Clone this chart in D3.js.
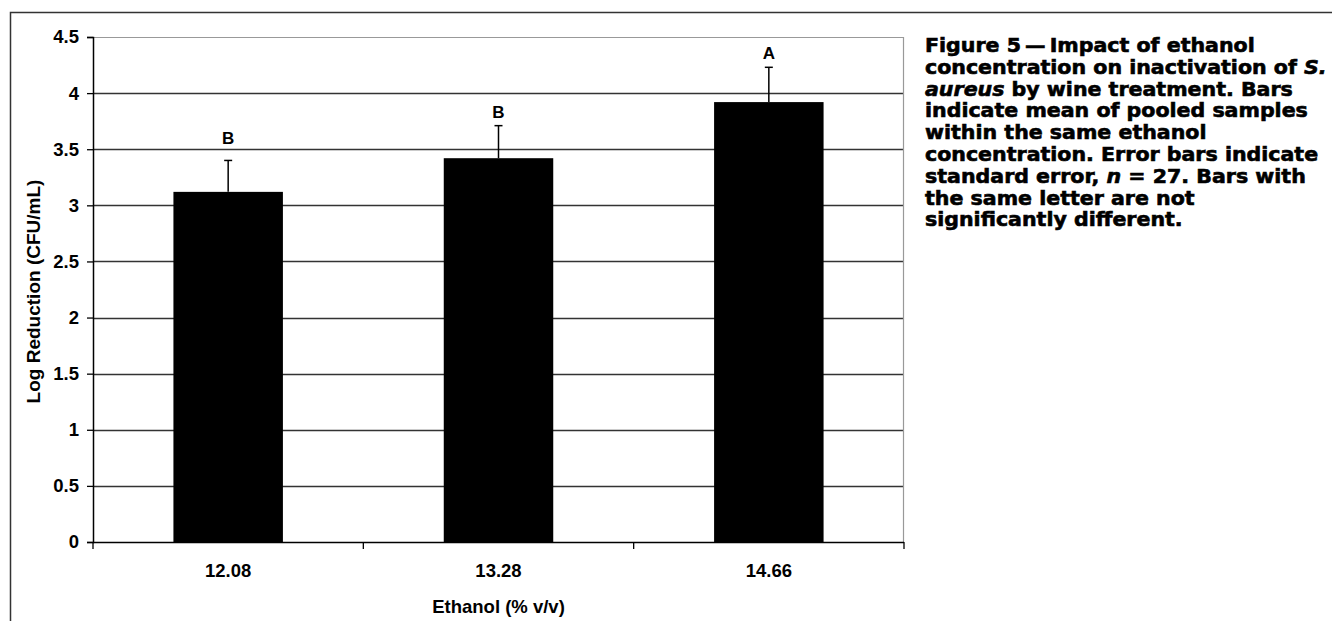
<!DOCTYPE html>
<html>
<head>
<meta charset="utf-8">
<script src="https://cdn.jsdelivr.net/npm/d3@7"></script>
<style>
  body { margin: 0; background: #fff; }
  svg { display: block; }
  text { font-family: "Liberation Sans", Arial, sans-serif; font-weight: bold; fill: #000; }
</style>
</head>
<body>
<div id="chart"></div>
<script>
// data
const categories = ['12.08', '13.28', '14.66']
const means = [3.12, 3.42, 3.92]
const errTops = [3.40, 3.71, 4.23]
const letters = ['B', 'B', 'A']
const letterPos = [3.60, 3.83, 4.36]
const yTicks = [0, 0.5, 1, 1.5, 2, 2.5, 3, 3.5, 4, 4.5]

const captionLines = [
  [['Figure 5\u2009\u2014\u2009Impact of ethanol', false]],
  [['concentration on inactivation of ', false], ['S.', true]],
  [['aureus', true], [' by wine treatment. Bars', false]],
  [['indicate mean of pooled samples', false]],
  [['within the same ethanol', false]],
  [['concentration. Error bars indicate', false]],
  [['standard error, ', false], ['n', true], [' = 27. Bars with', false]],
  [['the same letter are not', false]],
  [['significantly different.', false]]
]

const W = 1332, H = 621
const margin = { top: 37, left: 93 }
const plotW = 811, plotH = 505

const svg = d3.select('#chart').append('svg')
  .attr('width', W)
  .attr('height', H)

// outer frame (top + left only visible)
svg.append('path')
  .attr('d', `M10.5,${H} L10.5,12.5 L${W},12.5`)
  .attr('fill', 'none')
  .attr('stroke', '#333')
  .attr('stroke-width', 1.5)

const g = svg.append('g')
  .attr('transform', `translate(${margin.left},${margin.top})`)

const x = d3.scaleBand()
  .domain(categories)
  .range([0, plotW])
  .paddingInner(0)
  .paddingOuter(0)

const y = d3.scaleLinear()
  .domain([0, 4.5])
  .range([plotH, 0])

// gridlines
g.append('g')
  .selectAll('line')
  .data(yTicks.filter(d => d > 0 && d < 4.5))
  .enter()
  .append('line')
  .attr('x1', 0)
  .attr('x2', plotW)
  .attr('y1', d => Math.round(y(d)) + 0.5)
  .attr('y2', d => Math.round(y(d)) + 0.5)
  .attr('stroke', '#333')
  .attr('stroke-width', 1.3)

// plot area border top/right
g.append('path')
  .attr('d', `M0,0.5 L${plotW - 0.5},0.5 L${plotW - 0.5},${plotH}`)
  .attr('fill', 'none')
  .attr('stroke', '#999')
  .attr('stroke-width', 1.2)

// bars
const barW = x.bandwidth() * 0.405
g.append('g')
  .selectAll('rect')
  .data(means)
  .enter()
  .append('rect')
  .attr('x', (d, i) => x(categories[i]) + (x.bandwidth() - barW) / 2)
  .attr('y', d => y(d))
  .attr('width', barW)
  .attr('height', d => plotH - y(d))
  .attr('fill', '#000')

// error bars (upper only)
const err = g.append('g')
err.selectAll('line.stem')
  .data(errTops)
  .enter()
  .append('line')
  .attr('class', 'stem')
  .attr('x1', (d, i) => x(categories[i]) + x.bandwidth() / 2)
  .attr('x2', (d, i) => x(categories[i]) + x.bandwidth() / 2)
  .attr('y1', (d, i) => y(means[i]))
  .attr('y2', d => y(d))
  .attr('stroke', '#000')
  .attr('stroke-width', 1.5)
err.selectAll('line.cap')
  .data(errTops)
  .enter()
  .append('line')
  .attr('class', 'cap')
  .attr('x1', (d, i) => x(categories[i]) + x.bandwidth() / 2 - 4)
  .attr('x2', (d, i) => x(categories[i]) + x.bandwidth() / 2 + 4)
  .attr('y1', d => y(d))
  .attr('y2', d => y(d))
  .attr('stroke', '#000')
  .attr('stroke-width', 1.5)

// significance letters
g.append('g')
  .selectAll('text')
  .data(letters)
  .enter()
  .append('text')
  .attr('x', (d, i) => x(categories[i]) + x.bandwidth() / 2)
  .attr('y', (d, i) => y(letterPos[i]))
  .attr('dy', '0.35em')
  .attr('text-anchor', 'middle')
  .style('font-size', '17px')
  .text(d => d)

// y axis
const yAxis = g.append('g')
  .call(d3.axisLeft(y).tickValues(yTicks).tickSize(6).tickPadding(8).tickFormat(d3.format('')))
yAxis.select('.domain').attr('stroke', '#000').attr('stroke-width', 1.5)
yAxis.selectAll('.tick line').attr('stroke', '#000').attr('stroke-width', 1.3)
yAxis.selectAll('.tick text')
  .style('font-size', '18.5px')
  .style('font-family', '"Liberation Sans", Arial, sans-serif')
  .style('font-weight', 'bold')

// x axis with ticks at band edges
const xAxis = g.append('g')
  .attr('transform', `translate(0,${plotH})`)
xAxis.append('line')
  .attr('x1', 0).attr('x2', plotW)
  .attr('y1', 0.5).attr('y2', 0.5)
  .attr('stroke', '#000').attr('stroke-width', 1.5)
const edges = categories.map(c => x(c)).concat([plotW])
xAxis.selectAll('line.tk')
  .data(edges)
  .enter()
  .append('line')
  .attr('class', 'tk')
  .attr('x1', d => d).attr('x2', d => d)
  .attr('y1', 0).attr('y2', 7)
  .attr('stroke', '#000').attr('stroke-width', 1.3)
xAxis.selectAll('text')
  .data(categories)
  .enter()
  .append('text')
  .attr('x', d => x(d) + x.bandwidth() / 2)
  .attr('y', 35)
  .attr('text-anchor', 'middle')
  .style('font-size', '18.5px')
  .text(d => d)

// axis titles
svg.append('text')
  .attr('x', margin.left + plotW / 2)
  .attr('y', 613)
  .attr('text-anchor', 'middle')
  .style('font-size', '18.5px')
  .text('Ethanol (% v/v)')

svg.append('text')
  .attr('transform', `translate(40,${margin.top + plotH / 2 + 2}) rotate(-90)`)
  .attr('text-anchor', 'middle')
  .style('font-size', '19px')
  .text('Log Reduction (CFU/mL)')

// caption (heavy face imitated with a thin outline)
const cap = svg.append('g')
  .attr('transform', 'translate(925,0)')
const capText = cap.selectAll('text')
  .data(captionLines)
  .enter()
  .append('text')
  .attr('x', 0)
  .attr('y', (d, i) => 52 + i * 21.8)
  .style('font-family', '"DejaVu Sans", sans-serif')
  .style('font-size', '19px')
  .style('stroke', '#000')
  .style('stroke-width', '0.6px')
capText.selectAll('tspan')
  .data(d => d)
  .enter()
  .append('tspan')
  .style('font-style', d => d[1] ? 'italic' : 'normal')
  .text(d => d[0])

// stretch caption so line 2 spans the same width as the original
const refW = capText.nodes()[1].getComputedTextLength()
const k = 402 / refW
cap.attr('transform', `translate(925,0) scale(${k},1)`)
</script>
</body>
</html>
